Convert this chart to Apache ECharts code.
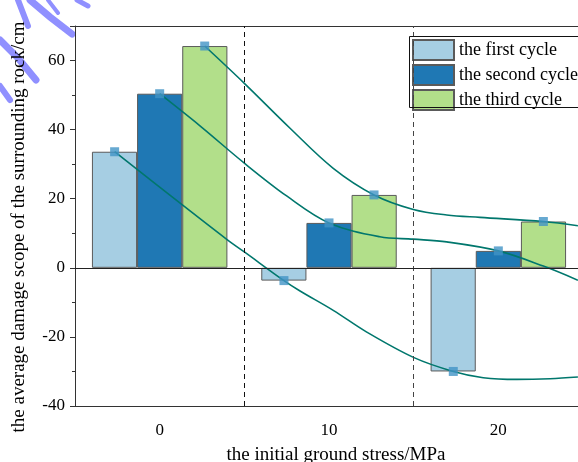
<!DOCTYPE html>
<html>
<head>
<meta charset="utf-8">
<script src="https://cdn.jsdelivr.net/npm/echarts@6/dist/echarts.min.js"></script>
<style>
html,body{margin:0;padding:0;background:#fff;}
#chart{width:578px;height:462px;}
</style>
</head>
<body>
<div id="chart"></div>
<script>
// ---- data ----
var categories = ['0', '10', '20'];
var seriesNames = ['the first cycle', 'the second cycle', 'the third cycle'];
var firstCycle = [33.6, -3.7, -30.0];
var secondCycle = [50.4, 13.0, 4.9];
var thirdCycle = [64.2, 21.1, 13.4];

// x positions (MPa) of the square markers on each curve
var firstMarkerX = [-2.66, 7.34, 17.34];
var secondMarkerX = [0, 10, 20];
var thirdMarkerX = [2.66, 12.66, 22.66];

// fitted curves, points [x, y]
var firstCurve = [[-2.66,33.6],[1.34,18.2],[4.0,8.1],[5.0,4.6],[7.34,-3.7],[8.29,-6.7],[10.25,-12.3],[12.23,-18.6],[15.02,-26.0],[17.34,-30.0],[19.11,-31.8],[21.09,-32.3],[23.05,-32.1],[24.7,-31.6]];
var secondCurve = [[0,50.4],[2.38,41.1],[5.0,30.3],[7.5,20.8],[10.0,13.0],[13.0,9.0],[14.98,8.3],[16.95,7.5],[20.0,4.9],[22.66,0.5],[24.7,-3.6]];
var thirdCurve = [[2.66,64.2],[5.0,53.4],[7.7,40.4],[10.25,28.8],[12.66,21.1],[14.98,16.9],[16.95,15.3],[18.92,14.6],[22.66,13.4],[24.7,12.2]];

var dividerX = [5, 15];
var yTicks = {min: -40, max: 70, interval: 20};
var xRange = {min: -5, max: 25};

function zip(xs, ys) { return xs.map(function (x, i) { return [x, ys[i]]; }); }

var FONT = 'Liberation Serif';
var barColors = ['#a6cee3', '#1f78b4', '#b2df8a'];
var curveColor = '#00776d';
var markerColor = '#4194c6';

var chart = echarts.init(document.getElementById('chart'), null, {renderer: 'canvas'});

function barSeries(name, data, color) {
  return {
    name: name, type: 'bar', xAxisIndex: 0, yAxisIndex: 0,
    data: data, barGap: 0, barCategoryGap: '20%',
    itemStyle: {color: color, borderColor: '#5a5a5a', borderWidth: 1},
    emphasis: {disabled: true}, z: 2
  };
}
function curveSeries(data, extra) {
  var s = {
    type: 'line', xAxisIndex: 1, yAxisIndex: 0, data: data, smooth: 0.35,
    showSymbol: false, symbol: 'none',
    lineStyle: {color: curveColor, width: 1.6}, z: 4, silent: true
  };
  if (extra) { for (var k in extra) s[k] = extra[k]; }
  return s;
}
function markerSeries(data) {
  return {
    type: 'scatter', xAxisIndex: 1, yAxisIndex: 0, data: data,
    symbol: 'rect', symbolSize: 9, itemStyle: {color: markerColor}, z: 6, silent: true
  };
}

var option = {
  backgroundColor: '#fff',
  animation: false,
  textStyle: {fontFamily: FONT},
  grid: {left: 75, top: 26, width: 508, height: 380, containLabel: false, outerBoundsMode: 'none'},
  legend: {
    data: seriesNames.map(function (n) { return {name: n, icon: 'rect'}; }),
    orient: 'vertical', left: 409, top: 36,
    itemWidth: 41, itemHeight: 20, itemGap: 3,
    padding: [3, 0, 2, 3],
    borderWidth: 0,
    textStyle: {fontFamily: FONT, fontSize: 18, color: '#000'},
    selectedMode: false
  },
  xAxis: [
    {
      type: 'category', data: categories, position: 'bottom',
      boundaryGap: true,
      axisLine: {onZero: false, lineStyle: {color: '#333', width: 1}},
      axisTick: {alignWithLabel: true, length: 5, lineStyle: {color: '#333'}},
      axisLabel: {fontFamily: FONT, fontSize: 17, color: '#000', margin: 16},
      splitLine: {show: false},
      name: 'the initial ground stress/MPa', nameLocation: 'middle', nameGap: 40,
      nameTextStyle: {fontFamily: FONT, fontSize: 19, color: '#000', padding: [0, 0, 0, 14]}
    },
    {
      type: 'value', min: xRange.min, max: xRange.max, position: 'top',
      axisLine: {show: true, onZero: false, lineStyle: {color: '#333', width: 1}},
      axisTick: {show: false}, axisLabel: {show: false}, splitLine: {show: false}
    }
  ],
  yAxis: {
    type: 'value', min: yTicks.min, max: yTicks.max, interval: yTicks.interval,
    axisLine: {show: true, onZero: false, lineStyle: {color: '#333', width: 1}},
    axisTick: {show: true, length: 5, lineStyle: {color: '#333'}},
    minorTick: {show: true, splitNumber: 2, length: 3, lineStyle: {color: '#333'}},
    axisLabel: {fontFamily: FONT, fontSize: 17, color: '#000', margin: 10, showMaxLabel: false},
    splitLine: {show: false},
    name: 'the average damage scope of the surrounding rock/cm',
    nameLocation: 'middle', nameGap: 46, nameRotate: 90,
    nameTextStyle: {fontFamily: FONT, fontSize: 19, color: '#000', padding: [0, 22, 0, 0]}
  },
  series: [
    barSeries(seriesNames[0], firstCycle, barColors[0]),
    barSeries(seriesNames[1], secondCycle, barColors[1]),
    barSeries(seriesNames[2], thirdCycle, barColors[2]),
    curveSeries(firstCurve, {
      markLine: {
        silent: true, symbol: 'none', label: {show: false},
        animation: false,
        data: [
          {xAxis: dividerX[0], lineStyle: {color: '#111', type: [5, 4], width: 1}},
          {xAxis: dividerX[1], lineStyle: {color: '#444', type: [5, 4], width: 1}},
          {yAxis: 0, lineStyle: {color: '#222', type: 'solid', width: 1}}
        ]
      }
    }),
    curveSeries(secondCurve),
    curveSeries(thirdCurve),
    markerSeries(zip(firstMarkerX, firstCycle)),
    markerSeries(zip(secondMarkerX, secondCycle)),
    markerSeries(zip(thirdMarkerX, thirdCycle))
  ],
  graphic: [
    {type: 'rect', silent: true, z: 90, left: 409, top: 36,
      shape: {width: 220, height: 71},
      style: {fill: 'rgba(255,255,255,0)', stroke: '#111', lineWidth: 1}},
    {type: 'group', silent: true, z: 100, children: [
      {type: 'polyline', shape: {points: [[18,0],[23,13],[28,26]]}, style: {stroke: '#9090ff', lineWidth: 6, lineCap: 'round', fill: null}},
      {type: 'polyline', shape: {points: [[30,0],[50,17],[72,34]]}, style: {stroke: '#9090ff', lineWidth: 7, lineCap: 'round', fill: null}},
      {type: 'polyline', shape: {points: [[48,0],[58,13]]}, style: {stroke: '#9090ff', lineWidth: 4, lineCap: 'round', fill: null}},
      {type: 'polyline', shape: {points: [[77,0],[88,6]]}, style: {stroke: '#9090ff', lineWidth: 5, lineCap: 'round', fill: null}},
      {type: 'polyline', shape: {points: [[0,40],[18,58],[36,80]]}, style: {stroke: '#9090ff', lineWidth: 7, lineCap: 'round', fill: null}},
      {type: 'polyline', shape: {points: [[0,86],[10,100]]}, style: {stroke: '#9090ff', lineWidth: 6, lineCap: 'round', fill: null}}
    ]}
  ]
};
chart.setOption(option);
</script>
</body>
</html>
